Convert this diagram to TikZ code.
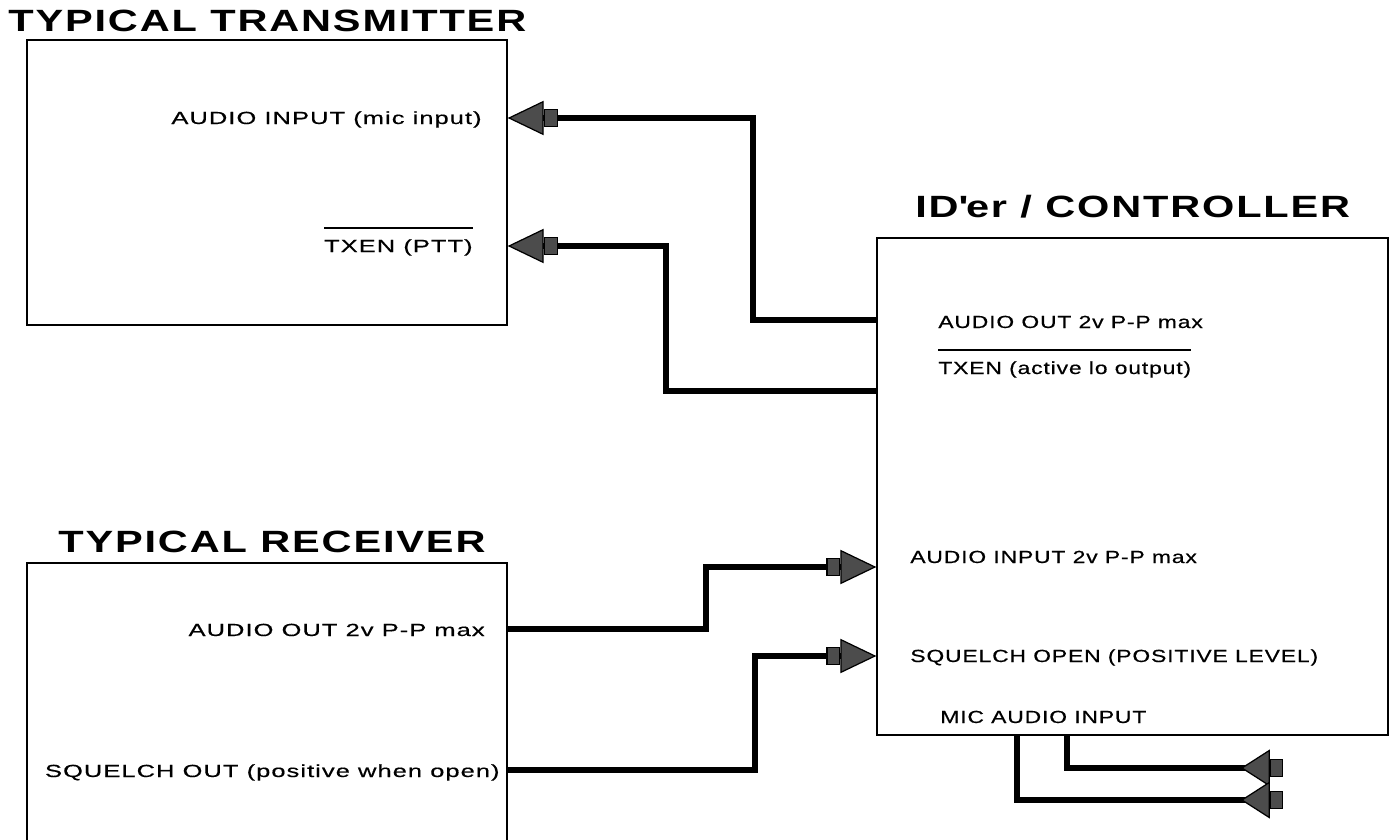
\documentclass[tikz,border=0pt]{standalone}
\usepackage{fontspec}
\setmainfont{Liberation Sans}
\newfontfamily\lblfont[FakeStretch=1.45,LetterSpace=6,FakeBold=0.5]{Liberation Sans}
\newfontfamily\ctllblfont[FakeStretch=1.3,LetterSpace=5,FakeBold=0.5]{Liberation Sans}
\newfontfamily\ttlfont[FakeStretch=1.35,LetterSpace=6]{Liberation Sans}
\usetikzlibrary{arrows.meta,positioning}

% active-low signal name with a bar over it
\newcommand\sigbar[1]{\vbox{\hrule height .9pt\kern 6pt\hbox{#1}}}

\tikzset{
  inhead/.tip={Rectangle[length=8pt,width=10.5pt,fill=black!70,line width=.7pt,sep=0pt]
               Triangle[length=20.5pt,width=19.5pt,fill=black!70,line width=.7pt]},
  michead/.tip={Triangle[reversed,length=16.5pt,width=21pt,fill=black!70,line width=.7pt,sep=0pt]
                Rectangle[length=7.5pt,width=10.5pt,fill=black!70,line width=.7pt]},
}

\begin{document}
\begin{tikzpicture}[x=0.02cm, y=-0.02cm,
    box/.style={draw, line width=.8pt, inner sep=0pt},
    sig/.style={line width=3pt, line join=miter},
    lbl/.style={font=\lblfont\fontsize{10}{12}\selectfont, inner sep=0pt},
    clbl/.style={font=\ctllblfont\fontsize{10}{12}\selectfont, inner sep=0pt, anchor=base west},
    ttl/.style={font=\ttlfont\bfseries\fontsize{17.5}{20}\selectfont, inner sep=0pt}]
    \useasboundingbox (0,0) rectangle (1390,839);
    \clip (0,0) rectangle (1390,839);

    % blocks
    \node[box, minimum width=9.6cm, minimum height=5.7cm] (tx) at (267,182.5) {};
    \node[box, minimum width=10.22cm, minimum height=9.94cm] (ctl) at (1132.5,486.5) {};
    \node[box, minimum width=9.6cm, minimum height=6.74cm] (rx) at (267,731.5) {};

    \node[ttl, anchor=base west] (tx-t)  at (8,31)    {TYPICAL TRANSMITTER};
    \node[ttl, anchor=base west] (ctl-t) at (915,217) {ID\textquotesingle er / CONTROLLER};
    \node[ttl, anchor=base west] (rx-t)  at (58,552)  {TYPICAL RECEIVER};

    % port labels
    \node[lbl, anchor=base east] (t-ain-l)  at (482,124) {AUDIO INPUT (mic input)};
    \node[lbl, anchor=base east] (t-txen-l) at (473,252) {\sigbar{TXEN (PTT)}};
    \node[clbl] (c-aout-l) at (938,328) {AUDIO OUT 2v P-P max};
    \node[clbl] (c-txen-l) at (938,374) {\sigbar{TXEN (active lo output)}};
    \node[clbl] (c-ain-l)  at (910,563) {AUDIO INPUT 2v P-P max};
    \node[clbl] (c-sq-l)   at (910,662) {SQUELCH OPEN (POSITIVE LEVEL)};
    \node[clbl] (c-mic-l)  at (940,723) {MIC AUDIO INPUT};
    \node[lbl, anchor=base east] (r-aout-l) at (485,636) {AUDIO OUT 2v P-P max};
    \node[lbl, anchor=base east] (r-sq-l)   at (500,777) {SQUELCH OUT (positive when open)};

    % ports on the block edges
    \coordinate (t-ain)  at (tx.east |- 0,118);
    \coordinate (t-txen) at (tx.east |- 0,246);
    \coordinate (c-aout) at (ctl.west |- 0,320);
    \coordinate (c-txen) at (ctl.west |- 0,391);
    \coordinate (c-ain)  at (ctl.west |- 0,567);
    \coordinate (c-sq)   at (ctl.west |- 0,656);
    \coordinate (c-mic1) at (ctl.south -| 1017,0);
    \coordinate (c-mic2) at (ctl.south -| 1067,0);
    \coordinate (r-aout) at (rx.east |- 0,629);
    \coordinate (r-sq)   at (rx.east |- 0,770);

    % bends and free ends
    \coordinate (k1) at (753,118);
    \coordinate (k2) at (666,246);
    \coordinate (k3) at (706,567);
    \coordinate (k4) at (755,656);
    \coordinate (m1) at (1283,800);
    \coordinate (m2) at (1283,768);

    % wiring
    \draw[sig, -inhead] (c-aout) -| (k1) -- (t-ain);
    \draw[sig, -inhead] (c-txen) -| (k2) -- (t-txen);
    \draw[sig, -inhead] (r-aout) -| (k3) -- (c-ain);
    \draw[sig, -inhead] (r-sq)   -| (k4) -- (c-sq);
    \draw[sig, -michead] (c-mic2) |- (m2);
    \draw[sig, -michead] (c-mic1) |- (m1);
\end{tikzpicture}
\end{document}
